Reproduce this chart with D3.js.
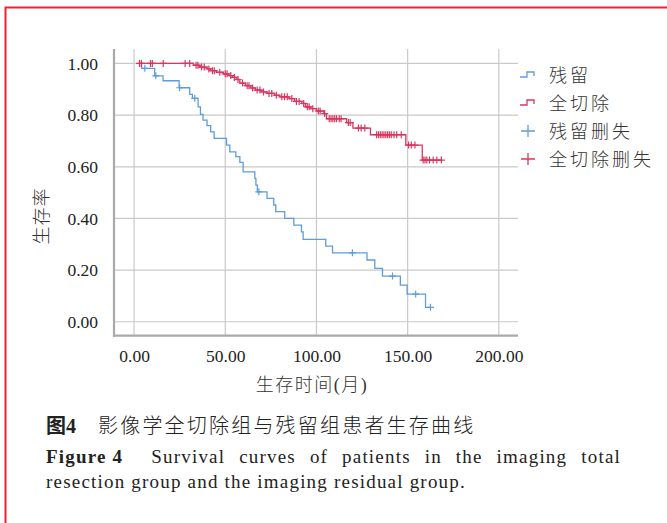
<!DOCTYPE html>
<html><head><meta charset="utf-8">
<script src="https://cdn.jsdelivr.net/npm/d3@7"></script>
<style>
html,body{margin:0;padding:0;background:#fff;}
svg{display:block;}
</style></head>
<body>
<svg id="chart" width="667" height="523"></svg>
<script>
// ---- data ----
const xTicks = [0, 50, 100, 150, 200];
const xTickLabels = ["0.00", "50.00", "100.00", "150.00", "200.00"];
const yTicks = [0, 0.2, 0.4, 0.6, 0.8, 1.0];
const yTickLabels = ["0.00", "0.20", "0.40", "0.60", "0.80", "1.00"];
const groups = ["残留", "全切除"];
const legendLabels = ["残留", "全切除", "残留删失", "全切除删失"];
const xTitle = "生存时间(月)";
const yTitle = "生存率";

// residual group: [time (months), survival after event]
const residualStart = 2.8;
const residualEnd = 162.5;
const residualEvents = [
  [4.1, 0.981], [11.3, 0.952], [15.9, 0.933], [24.7, 0.906], [30.5, 0.880],
  [32.0, 0.865], [35.1, 0.832], [36.4, 0.803], [37.8, 0.781], [40.0, 0.759],
  [42.0, 0.735], [43.9, 0.710], [50.7, 0.684], [52.5, 0.658], [55.8, 0.639],
  [58.0, 0.617], [59.8, 0.580], [66.2, 0.555], [66.8, 0.529], [67.6, 0.503],
  [72.9, 0.478], [76.6, 0.452], [77.7, 0.426], [82.6, 0.400], [87.6, 0.374],
  [91.8, 0.348], [92.7, 0.319], [105.1, 0.293], [108.8, 0.267], [127.7, 0.239],
  [132.0, 0.207], [136.2, 0.177], [146.0, 0.142], [149.7, 0.107], [159.8, 0.056]
];
const residualCensored = [5.9, 11.9, 25.0, 33.3, 68.4, 119.7, 141.7, 154.4, 162.5];

// total resection group
const totalStart = 2.8;
const totalEnd = 168.5;
const totalEvents = [
  [32.5, 0.993], [36, 0.986], [40, 0.979], [42, 0.972], [45, 0.966],
  [49, 0.960], [52, 0.953], [54, 0.946], [56, 0.938], [58, 0.924],
  [61, 0.914], [64, 0.905], [66.5, 0.897], [70, 0.890], [73, 0.884],
  [77, 0.877], [80, 0.871], [85, 0.864], [88, 0.853], [92, 0.845],
  [94, 0.832], [97, 0.825], [100, 0.816], [104, 0.806], [105.5, 0.786],
  [116.5, 0.771], [120, 0.750], [129.6, 0.724], [149, 0.684], [158, 0.626]
];
const totalCensored = [
  3, 4, 9, 10, 16, 28, 30.5, 34, 35, 37, 38.5, 41, 43, 44, 47, 50, 51, 53, 55,
  57, 59.5, 62, 63, 65, 67.5, 69, 71, 74, 75.5, 78, 81, 82.5, 84, 86.5, 89, 90.5,
  93, 95, 96, 98, 101, 102, 104.5, 107, 108, 109, 110, 111, 112.5, 113.5, 117.5,
  118.5, 123, 124.5, 126.5, 133, 134, 135, 136, 137, 138, 139, 140, 141, 142.5,
  144, 146.5, 150.5, 152, 154, 158.5, 159.5, 160.5, 162, 164, 166, 168.5
];

// ---- layout ----
const svg = d3.select("#chart");
const serif = "'Liberation Serif', 'Times New Roman', 'Noto Sans CJK SC', serif";
const blue = "#5f9cdb";
const red = "#d8375f";

const x = d3.scaleLinear().domain([-11, 210.5]).range([114, 518]);
const y = d3.scaleLinear().domain([-0.054, 1.056]).range([335.7, 49]);

// red page border (top and left)
svg.append("path").attr("d", "M5.5,523 V7.5 H667")
  .attr("fill", "none").attr("stroke", "#e8262e").attr("stroke-width", 2);

// gridlines
const grid = svg.append("g");
grid.selectAll("line.v").data(xTicks).enter().append("line")
  .attr("x1", d => x(d)).attr("x2", d => x(d))
  .attr("y1", y.range()[1]).attr("y2", y.range()[0])
  .attr("stroke", "#c9c9c9").attr("stroke-width", 1.2);
grid.selectAll("line.h").data(yTicks).enter().append("line")
  .attr("x1", x.range()[0]).attr("x2", x.range()[1])
  .attr("y1", d => y(d)).attr("y2", d => y(d))
  .attr("stroke", "#c9c9c9").attr("stroke-width", 1.2);

// axes (no tick marks)
const yAxis = d3.axisLeft(y).tickValues(yTicks).tickSize(0).tickPadding(16)
  .tickFormat((d, i) => yTickLabels[i]);
const gy = svg.append("g").attr("transform", `translate(${x.range()[0]},0)`).call(yAxis);
const xAxis = d3.axisBottom(x).tickValues(xTicks).tickSize(0).tickPadding(14)
  .tickFormat((d, i) => xTickLabels[i]);
const gx = svg.append("g").attr("transform", `translate(0,${y.range()[0]})`).call(xAxis);
[gx, gy].forEach(g => {
  g.select(".domain").attr("stroke", "#a9a9a9").attr("stroke-width", 2.2);
  g.selectAll("text").attr("font-family", serif).attr("font-size", 17.5).attr("fill", "#222");
});
gx.select(".domain").attr("d", `M${x.range()[0]-1},0H${x.range()[1]}`);
gy.select(".domain").attr("d", `M0,${y.range()[1]}V${y.range()[0]+1}`);

// axis titles
svg.append("text").attr("x", 312).attr("y", 391).attr("text-anchor", "middle")
  .attr("font-family", serif).attr("font-size", 18).attr("font-weight", 300)
  .attr("letter-spacing", 1.5).attr("fill", "#333").text(xTitle);
svg.append("text").attr("transform", "translate(48,216) rotate(-90)").attr("text-anchor", "middle")
  .attr("font-family", serif).attr("font-size", 18).attr("font-weight", 300)
  .attr("letter-spacing", 1).attr("fill", "#333").text(yTitle);

// curves
function stepPoints(start, events, end) {
  const pts = [[start, 1]];
  events.forEach(e => pts.push(e));
  pts.push([end, events[events.length - 1][1]]);
  return pts;
}
function survAt(events, t) {
  let s = 1;
  for (const e of events) { if (e[0] <= t) s = e[1]; }
  return s;
}
const line = d3.line().x(d => x(d[0])).y(d => y(d[1])).curve(d3.curveStepAfter);
const series = [
  {events: residualEvents, start: residualStart, end: residualEnd, cens: residualCensored, color: blue},
  {events: totalEvents, start: totalStart, end: totalEnd, cens: totalCensored, color: red}
];
series.forEach(s => {
  svg.append("path").datum(stepPoints(s.start, s.events, s.end))
    .attr("d", line).attr("fill", "none").attr("stroke", s.color).attr("stroke-width", 1.3);
  svg.append("g").selectAll("path").data(s.cens).enter().append("path")
    .attr("d", c => {
      const cx = x(c), cy = y(survAt(s.events, c));
      return `M${cx-3.5},${cy}H${cx+3.5}M${cx},${cy-3.5}V${cy+3.5}`;
    })
    .attr("stroke", s.color).attr("stroke-width", 1.2).attr("fill", "none");
});

// legend
const lg = svg.append("g");
const legY = [75, 103, 131, 159];
legendLabels.forEach((lab, i) => {
  const col = i % 2 === 0 ? blue : red;
  const ly = legY[i];
  if (i < 2) {
    lg.append("path").attr("d", `M520,${ly+2}H527V${ly-3}H534V${ly+1}`)
      .attr("fill", "none").attr("stroke", col).attr("stroke-width", 1.3);
  } else {
    lg.append("path").attr("d", `M521,${ly}H535M528,${ly-6}V${ly+6}`)
      .attr("fill", "none").attr("stroke", col).attr("stroke-width", 1.3);
  }
  lg.append("text").attr("x", 549).attr("y", ly + 7)
    .attr("font-family", serif).attr("font-size", 18).attr("font-weight", 300)
    .attr("letter-spacing", 3).attr("fill", "#333").text(lab);
});

// caption
const cap = svg.append("g").attr("font-family", serif).attr("fill", "#222");
const c1 = cap.append("text").attr("x", 46).attr("y", 433).attr("font-size", 20);
c1.append("tspan").attr("font-weight", "bold").text("图4");
c1.append("tspan").attr("dx", 22).attr("font-weight", 300).attr("letter-spacing", 2.2)
  .text("影像学全切除组与残留组患者生存曲线");

const line1Left = 46, line1Right = 621, line1Y = 463;
const chunks = [
  {t: "Figure 4", b: true}, {t: "Survival"}, {t: "curves"}, {t: "of"}, {t: "patients"},
  {t: "in"}, {t: "the"}, {t: "imaging"}, {t: "total"}
];
const nodes = chunks.map(c => cap.append("text").attr("y", line1Y).attr("font-size", 19)
  .attr("letter-spacing", 1.2)
  .attr("font-weight", c.b ? "bold" : "normal").text(c.t));
const widths = nodes.map(n => n.node().getComputedTextLength());
const totalW = d3.sum(widths);
const gapUnits = chunks.length - 1 + 1; // first gap counts double
const gap = (line1Right - line1Left - totalW) / gapUnits;
let cx = line1Left;
nodes.forEach((n, i) => {
  n.attr("x", cx);
  cx += widths[i] + (i === 0 ? 2 * gap : gap);
});
cap.append("text").attr("x", 46).attr("y", 488).attr("font-size", 19)
  .attr("letter-spacing", 1.2)
  .text("resection group and the imaging residual group.");
</script>
</body></html>
